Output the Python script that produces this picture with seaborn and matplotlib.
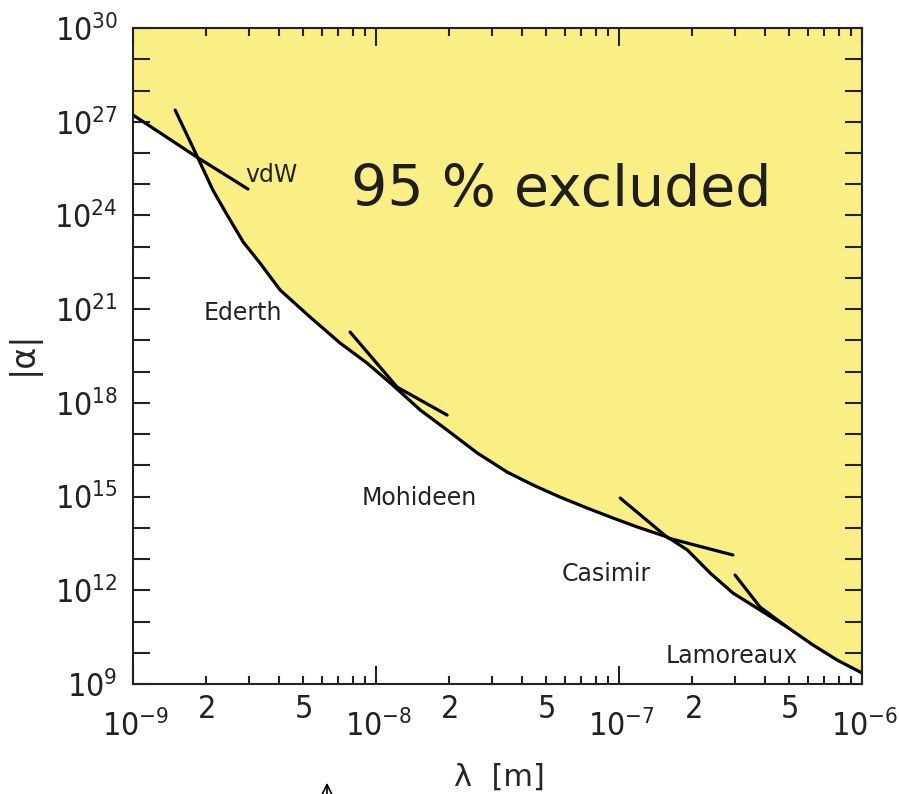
import numpy as np
import matplotlib
matplotlib.use("Agg")
import matplotlib.pyplot as plt
import matplotlib.ticker as mticker
from matplotlib import font_manager as fm
from matplotlib.transforms import ScaledTranslation
import seaborn as sns

# combined limit curve (lower edge of the excluded region)
main_lam = [1.49e-9, 1.85e-9, 2.13e-9, 2.44e-9, 2.84e-9, 3.33e-9, 4.03e-9, 5.35e-9,
            7.11e-9, 9.18e-9, 1.17e-8, 1.52e-8, 1.96e-8, 2.61e-8, 3.46e-8, 4.43e-8,
            5.71e-8, 7.38e-8, 9.44e-8, 1.19e-7, 1.58e-7, 1.91e-7, 2.37e-7, 2.94e-7,
            3.80e-7, 4.91e-7, 6.28e-7, 7.89e-7, 1.0e-6]
main_alpha = [2.37e27, 6.87e25, 6.50e24, 1.03e24, 1.41e23, 2.99e22, 4.09e21, 5.60e20,
              8.24e19, 1.88e19, 3.72e18, 5.90e17, 1.35e17, 2.48e16, 6.11e15, 2.34e15,
              9.68e14, 4.31e14, 2.06e14, 1.06e14, 5.08e13, 1.95e13, 3.57e12, 8.18e11,
              2.34e11, 6.68e10, 1.77e10, 5.86e9, 2.25e9]

# individual experiments
vdw_lam = [1.0e-9, 1.83e-9, 2.97e-9]
vdw_alpha = [1.64e27, 7.40e25, 7.00e24]
moh_lam = [7.82e-9, 1.22e-8, 1.96e-8]
moh_alpha = [1.85e20, 3.21e18, 4.08e17]
cas_lam = [1.01e-7, 1.59e-7, 2.94e-7]
cas_alpha = [9.00e14, 4.71e13, 1.35e13]
lamo_lam = [3.00e-7, 3.80e-7, 4.91e-7]
lamo_alpha = [3.08e12, 2.92e11, 6.68e10]
cross_lam = 1.84e-9  # vdW line meets the combined curve here

labels = ["vdW", "Ederth", "Mohideen", "Casimir", "Lamoreaux"]
label_lam = [2.89e-9, 1.96e-9, 8.75e-9, 5.82e-8, 1.55e-7]
label_alpha = [1.95e25, 7.5e20, 9.0e14, 3.3e12, 7.9e9]

x_lo, x_hi = 1e-9, 1e-6
y_lo, y_hi = 1e9, 1e30

sns.set_style("ticks")
plt.rcParams['font.family'] = ['DejaVu Sans']

# narrow face for the tick numbers, if one is installed
tick_font = 'DejaVu Sans'
tick_size = 20
for f in fm.fontManager.ttflist:
    if f.fname.endswith(('LiberationSansNarrow-Regular.ttf', 'DejaVuSansCondensed.ttf')):
        tick_font = "%s:stretch=%s" % (f.name, f.stretch)
        tick_size = 23
        break
plt.rcParams['mathtext.fontset'] = 'custom'
plt.rcParams['mathtext.rm'] = tick_font
plt.rcParams['mathtext.default'] = 'rm'

fig = plt.figure(figsize=(8.99, 7.94), dpi=100)
ax = fig.add_axes([0.148, 0.1385, 0.811, 0.8262])
ax.set_xscale('log')
ax.set_yscale('log')

# yellow excluded region: above vdW on the left, above the main curve after the crossing
vl, va = np.array(vdw_lam), np.array(vdw_alpha)
ml, ma = np.array(main_lam), np.array(main_alpha)
bx = np.concatenate([vl[vl < cross_lam], ml[ml >= cross_lam]])
by = np.concatenate([va[vl < cross_lam], ma[ml >= cross_lam]])
ax.fill_between(bx, by, y_hi, color='#f9ef84', lw=0, zorder=0)

for xs, ys in [(main_lam, main_alpha), (vdw_lam, vdw_alpha), (moh_lam, moh_alpha),
               (cas_lam, cas_alpha), (lamo_lam, lamo_alpha)]:
    sns.lineplot(x=xs, y=ys, ax=ax, color='black', lw=2.3, sort=False, estimator=None)

for t, x, y in zip(labels, label_lam, label_alpha):
    ax.text(x, y, t, fontsize=17, ha='left', va='center', color='#222222')

ax.text(0.587, 0.753, "95 % excluded", transform=ax.transAxes, fontsize=41,
        ha='center', va='center', color='#1e1e1e')

ax.set_xlim(x_lo, x_hi)
ax.set_ylim(y_lo, y_hi)

def inside(v):
    return x_lo * 0.999 <= v <= x_hi * 1.001

ax.xaxis.set_major_locator(mticker.LogLocator(base=10, numticks=10))
ax.xaxis.set_major_formatter(mticker.FuncFormatter(
    lambda v, p: "$10^{%d}$" % round(np.log10(v)) if inside(v) else ""))
ax.xaxis.set_minor_locator(mticker.LogLocator(base=10, subs=np.arange(2, 10), numticks=10))

def minor_fmt(v, p):
    m = round(v / 10 ** np.floor(np.log10(v) + 1e-9))
    return "$%d$" % m if (m in (2, 5) and inside(v)) else ""

ax.xaxis.set_minor_formatter(mticker.FuncFormatter(minor_fmt))

ax.yaxis.set_major_locator(mticker.FixedLocator(10.0 ** np.arange(9, 31)))
ax.yaxis.set_major_formatter(mticker.FuncFormatter(
    lambda v, p: "$10^{%d}$" % round(np.log10(v)) if round(np.log10(v)) % 3 == 0 else ""))
ax.yaxis.set_minor_locator(mticker.NullLocator())

ax.tick_params(axis='both', which='both', direction='in', top=True, right=True,
               width=1.5, color='#222222', labelsize=tick_size, labelcolor='#222222')
ax.tick_params(axis='x', which='major', length=13, pad=19)
ax.tick_params(axis='x', which='minor', length=6, pad=7)
ax.tick_params(axis='y', which='major', length=12, pad=11)
for lab in ax.get_xticklabels():
    lab.set_transform(lab.get_transform() + ScaledTranslation(2 / 72, 0, fig.dpi_scale_trans))
for s in ax.spines.values():
    s.set_linewidth(1.5)
    s.set_color('#222222')

ax.set_xlabel("λ  [m]", fontsize=22)
ax.xaxis.set_label_coords(0.503, -0.12)
ax.set_ylabel("|α|", fontsize=24)
ax.yaxis.set_label_coords(-0.128, 0.505)

ax.annotate('', xy=(327, 14), xytext=(327, -10), xycoords='figure pixels',
            arrowprops=dict(arrowstyle='->', lw=1.2, color='black', mutation_scale=18))

fig.savefig("out.png", dpi=100)
